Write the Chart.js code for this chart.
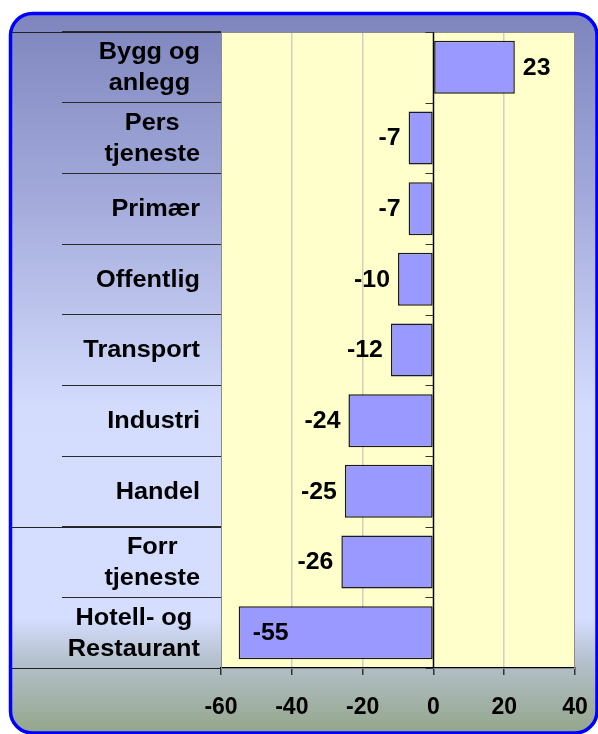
<!DOCTYPE html>
<html>
<head>
<meta charset="utf-8">
<script src="https://cdn.jsdelivr.net/npm/chart.js@4/dist/chart.umd.min.js"></script>
<style>
  html, body { margin: 0; padding: 0; background: #ffffff; }
  #wrap { width: 598px; height: 734px; position: relative; }
</style>
</head>
<body>
<div id="wrap"><canvas id="c" width="598" height="734"></canvas></div>
<script>
// ---- Data ----
const categories = [
  ["Bygg og", "anlegg"],
  ["Pers", "tjeneste"],
  ["Primær"],
  ["Offentlig"],
  ["Transport"],
  ["Industri"],
  ["Handel"],
  ["Forr", "tjeneste"],
  ["Hotell- og", "Restaurant"]
];
const values = [23, -7, -7, -10, -12, -24, -25, -26, -55];
const xTicks = [-60, -40, -20, 0, 20, 40];
const xMin = -60;
const xMax = 40;
const xStep = 20;
// boundaries whose separator runs across the whole label column
const longSeparators = [0, 7, 9];

const FONT = 'Arial, "Liberation Sans", sans-serif';

const framePlugin = {
  id: 'frame',
  beforeDraw(chart) {
    const ctx = chart.ctx;
    const ca = chart.chartArea;
    ctx.save();
    const x0 = 10.5, y0 = 13.5, x1 = 597, y1 = 733, r = 22;
    ctx.beginPath();
    ctx.moveTo(x0 + r, y0);
    ctx.lineTo(x1 - r, y0);
    ctx.arcTo(x1, y0, x1, y0 + r, r);
    ctx.lineTo(x1, y1 - r);
    ctx.arcTo(x1, y1, x1 - r, y1, r);
    ctx.lineTo(x0 + r, y1);
    ctx.arcTo(x0, y1, x0, y1 - r, r);
    ctx.lineTo(x0, y0 + r);
    ctx.arcTo(x0, y0, x0 + r, y0, r);
    ctx.closePath();
    const g = ctx.createLinearGradient(0, 13, 0, 733);
    g.addColorStop(0.00, '#7E85BD');
    g.addColorStop(0.25, '#A2A9DA');
    g.addColorStop(0.55, '#D3DCFD');
    g.addColorStop(0.84, '#D5DEFF');
    g.addColorStop(0.90, '#B4C0CC');
    g.addColorStop(1.00, '#94A68A');
    ctx.fillStyle = g;
    ctx.fill();
    ctx.lineWidth = 3.5;
    ctx.strokeStyle = '#0000FF';
    ctx.stroke();
    ctx.fillStyle = '#FFFFCC';
    ctx.fillRect(ca.left, ca.top, ca.right - ca.left, ca.bottom - ca.top);
    ctx.restore();
  },
  beforeDatasetsDraw(chart) {
    const ctx = chart.ctx;
    const ca = chart.chartArea;
    const ys = chart.scales.y;
    const n = categories.length;
    ctx.save();
    ctx.strokeStyle = '#8C8C8C';
    ctx.lineWidth = 1;
    ctx.strokeRect(Math.round(ca.left) + 0.5, Math.round(ca.top) + 0.5, ca.right - ca.left - 1, ca.bottom - ca.top);
    ctx.strokeStyle = '#222222';
    longSeparators.forEach(b => {
      let yy;
      if (b === 0) yy = ca.top;
      else if (b === n) yy = ca.bottom;
      else yy = (ys.getPixelForValue(b - 1) + ys.getPixelForValue(b)) / 2;
      yy = Math.round(yy) + 0.5;
      ctx.beginPath();
      ctx.moveTo(12, yy);
      ctx.lineTo(ca.left, yy);
      ctx.stroke();
    });
    ctx.restore();
  },
  afterDatasetsDraw(chart) {
    const ctx = chart.ctx;
    const ca = chart.chartArea;
    const xs = chart.scales.x;
    const ys = chart.scales.y;
    const n = categories.length;
    ctx.save();
    const zx = Math.round(xs.getPixelForValue(0)) + 0.5;
    ctx.strokeStyle = '#000000';
    ctx.lineWidth = 1.5;
    ctx.beginPath();
    ctx.moveTo(zx, ca.top);
    ctx.lineTo(zx, ca.bottom);
    ctx.stroke();
    ctx.lineWidth = 1;
    ctx.strokeStyle = '#333333';
    for (let b = 0; b <= n; b++) {
      let yy;
      if (b === 0) yy = ca.top;
      else if (b === n) yy = ca.bottom;
      else yy = (ys.getPixelForValue(b - 1) + ys.getPixelForValue(b)) / 2;
      yy = Math.round(yy) + 0.5;
      ctx.beginPath();
      ctx.moveTo(zx - 8, yy);
      ctx.lineTo(zx, yy);
      ctx.stroke();
    }
    // data labels
    ctx.font = 'bold 23px ' + FONT;
    ctx.fillStyle = '#000000';
    ctx.textBaseline = 'middle';
    const nsx = 1.08;
    const meta = chart.getDatasetMeta(0);
    meta.data.forEach((bar, i) => {
      const v = values[i];
      const txt = String(v);
      const w = ctx.measureText(txt).width * nsx;
      const y = bar.y + 1;
      let left;
      if (v >= 0) left = bar.x + 8;
      else if (bar.x - 8 - w < ca.left + 2) left = bar.x + 14;
      else left = bar.x - 8 - w;
      ctx.save();
      ctx.translate(left, y);
      ctx.scale(nsx, 1);
      ctx.textAlign = 'left';
      ctx.fillText(txt, 0, 0);
      ctx.restore();
    });
    // category labels
    ctx.font = 'bold 23px ' + FONT;
    ctx.textAlign = 'center';
    const sx = 1.1;
    const rightEdge = 200;
    const lh = 31;
    categories.forEach((lines, i) => {
      const cy = ys.getPixelForValue(i) + 1;
      let maxW = 0;
      lines.forEach(l => { maxW = Math.max(maxW, ctx.measureText(l).width * sx); });
      const cx = rightEdge - maxW / 2;
      lines.forEach((l, k) => {
        const ly = cy + (k - (lines.length - 1) / 2) * lh;
        ctx.save();
        ctx.translate(cx, ly);
        ctx.scale(sx, 1);
        ctx.fillText(l, 0, 0);
        ctx.restore();
      });
    });
    ctx.strokeStyle = '#222222';
    ctx.lineWidth = 1;
    ctx.beginPath();
    ctx.moveTo(12, Math.round(ca.bottom) + 0.5);
    ctx.lineTo(ca.left, Math.round(ca.bottom) + 0.5);
    ctx.stroke();
    ctx.restore();
  }
};

const chart = new Chart(document.getElementById('c'), {
  type: 'bar',
  data: {
    labels: categories,
    datasets: [{
      data: values,
      backgroundColor: '#9999FF',
      borderColor: '#1A1A1A',
      borderWidth: 1.5,
      borderSkipped: false,
      categoryPercentage: 1.0,
      barPercentage: 0.75
    }]
  },
  options: {
    indexAxis: 'y',
    responsive: false,
    animation: false,
    devicePixelRatio: 1,
    layout: { padding: { left: 0, top: 32, right: 23, bottom: 0 } },
    plugins: { legend: { display: false }, tooltip: { enabled: false } },
    scales: {
      x: {
        type: 'linear',
        min: xMin,
        max: xMax,
        afterBuildTicks(scale) { scale.ticks = xTicks.map(v => ({ value: v })); },
        afterFit(scale) { scale.height = 66; scale.paddingLeft = 0; scale.paddingRight = 0; },
        ticks: {
          stepSize: xStep,
          color: '#000000',
          font: { family: FONT, size: 23, weight: 'bold' },
          padding: 19
        },
        grid: {
          color: ctx => (ctx.tick && (ctx.tick.value === 0 || ctx.tick.value === xMin || ctx.tick.value === xMax)) ? 'rgba(0,0,0,0)' : '#CFCFC4',
          lineWidth: 1.5,
          tickLength: 7,
          tickColor: '#333333',
          drawTicks: true
        },
        border: { display: true, color: '#000000', width: 1.5 }
      },
      y: {
        type: 'category',
        afterFit(scale) { scale.width = 221; scale.paddingTop = 0; scale.paddingBottom = 0; },
        ticks: { display: false },
        grid: {
          offset: true,
          drawOnChartArea: false,
          drawTicks: true,
          tickLength: 159,
          color: '#2A2A2A',
          lineWidth: 1
        },
        border: { display: true, color: '#8C8C8C', width: 1 }
      }
    }
  },
  plugins: [framePlugin]
});
</script>
</body>
</html>
